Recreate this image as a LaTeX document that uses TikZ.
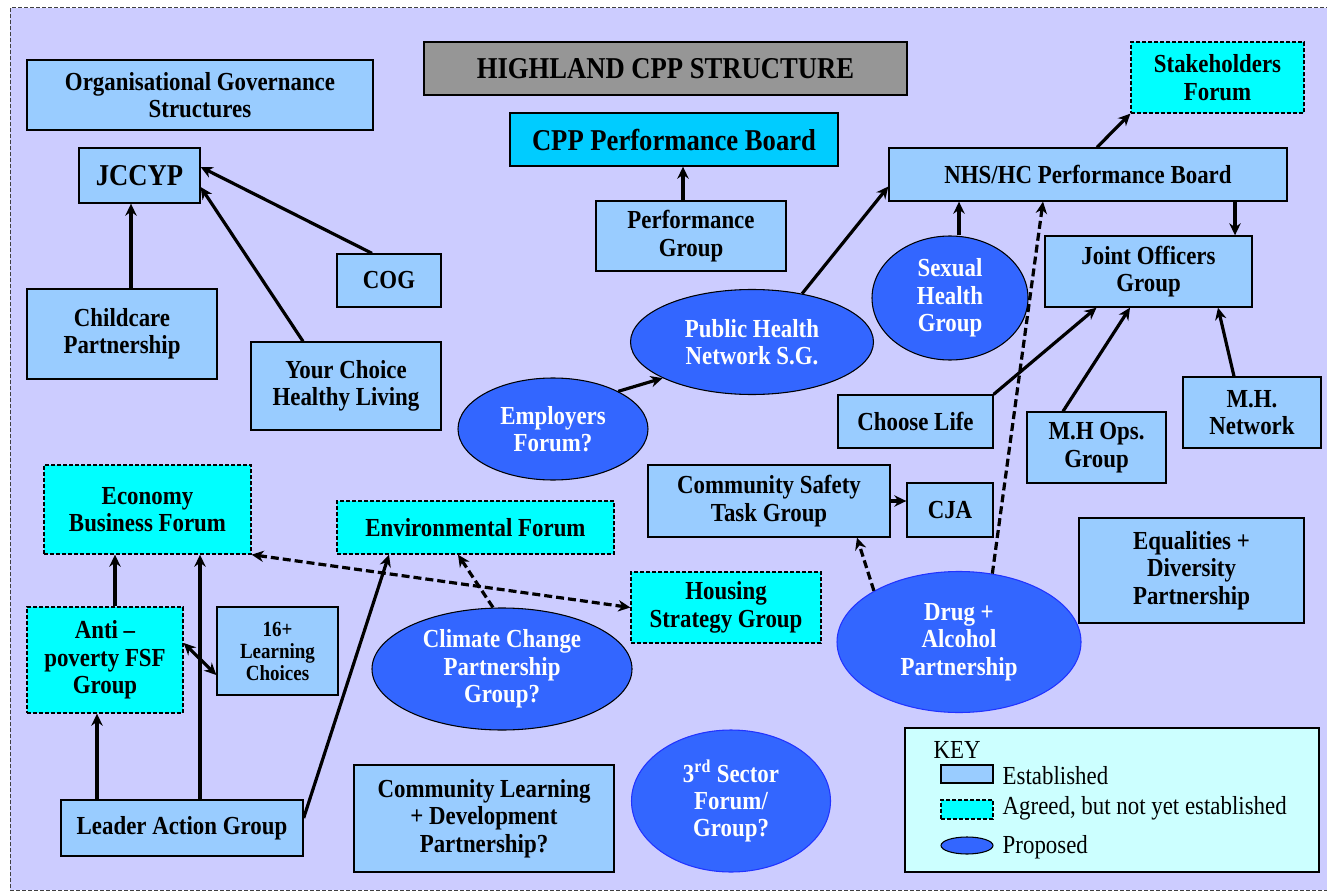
\documentclass[tikz,border=0pt]{standalone}
\usepackage{fontspec}
\setmainfont{Liberation Serif}[FakeStretch=0.88]
\usetikzlibrary{shapes.geometric,arrows.meta,calc}

\definecolor{bgpurple}{HTML}{CCCCFF}
\definecolor{estblue}{HTML}{99CCFF}
\definecolor{agreedcyan}{HTML}{00FFFF}
\definecolor{boardcyan}{HTML}{00CCFF}
\definecolor{propblue}{HTML}{3366FF}
\definecolor{propedge}{HTML}{2233FF}
\definecolor{titlegray}{HTML}{969696}
\definecolor{keycyan}{HTML}{CCFFFF}

\newcommand{\cppfont}{\bfseries\fontsize{19.5}{20.5}\selectfont}
\newcommand{\cppbig}{\bfseries\fontsize{22.7}{24}\selectfont}
\newcommand{\cppsmall}{\bfseries\fontsize{16.2}{16.5}\selectfont}
\newcommand{\keyfont}{\fontsize{19.5}{20.5}\selectfont}

\tikzset{
  est/.style={draw, fill=estblue, line width=1pt, align=center, inner sep=0pt, font=\cppfont},
  agreed/.style={est, fill=agreedcyan, dash pattern=on 3pt off 1.5pt},
  prop/.style={ellipse, draw, fill=propblue, line width=0.8pt, inner sep=0pt, align=center, text=white, font=\cppfont},
  conn/.style={line width=2.4pt, ->, >={Stealth[length=9pt,width=8.5pt]}},
  plan/.style={conn, dash pattern=on 6pt off 3pt},
}

\begin{document}
\begin{tikzpicture}[x=0.75pt,y=-0.75pt]
  \useasboundingbox (0,0) rectangle (1327,891);
  \fill[white] (0,0) rectangle (1327,891);
  \draw[fill=bgpurple, draw=black!75, line width=0.75pt, dash pattern=on 3pt off 1.5pt] (10,8) rectangle (1330,890);

  % organisational governance side
  \node[est, minimum width=259.5pt, minimum height=52.5pt] (org) at (200,95) {Organisational Governance\\Structures};
  \node[est, minimum width=90.75pt, minimum height=41.25pt, font=\cppbig] (jccyp) at (139.5,175.5) {JCCYP};
  \node[est, minimum width=78pt, minimum height=39.75pt] (cog) at (389,280.5) {COG};
  \node[est, minimum width=142.5pt, minimum height=67.5pt] (childcare) at (122,334) {Childcare\\Partnership};
  \node[est, minimum width=142.5pt, minimum height=66pt] (yourchoice) at (346,386) {Your Choice\\Healthy Living};

  % performance boards
  \node[est, fill=titlegray, minimum width=362.25pt, minimum height=39.75pt, font=\cppbig] (title) at (665.5,68.5) {HIGHLAND CPP STRUCTURE};
  \node[est, fill=boardcyan, minimum width=246pt, minimum height=39.75pt, font=\cppbig] (cppboard) at (674,139.5) {CPP Performance Board};
  \node[est, minimum width=142.5pt, minimum height=52.5pt] (perfgroup) at (691,236) {Performance\\Group};
  \node[est, minimum width=298.5pt, minimum height=39.75pt] (nhs) at (1088,174.5) {NHS/HC Performance Board};
  \node[agreed, minimum width=129.75pt, minimum height=53.25pt] (stake) at (1217.5,77.5) {Stakeholders\\Forum};
  \node[est, minimum width=155.25pt, minimum height=53.25pt] (joint) at (1148.5,271.5) {Joint Officers\\Group};

  % health
  \node[prop, minimum width=117pt, minimum height=93pt] (sexual) at (950,298) {Sexual\\Health\\Group};
  \node[prop, minimum width=182.25pt, minimum height=78.75pt] (pubhealth) at (752,342) {Public Health\\Network S.G.};
  \node[prop, minimum width=142.5pt, minimum height=76.5pt] (employers) at (553,429) {Employers\\Forum?};
  \node[est, minimum width=116.25pt, minimum height=39.75pt] (chooselife) at (915.5,421.5) {Choose Life};
  \node[est, minimum width=104.25pt, minimum height=53.25pt] (mhops) at (1096.5,447.5) {M.H Ops.\\Group};
  \node[est, minimum width=103.5pt, minimum height=53.25pt] (mhnet) at (1252,412.5) {M.H.\\Network};

  % safety
  \node[est, minimum width=181.5pt, minimum height=54pt] (commsafety) at (769,501) {Community Safety\\Task Group};
  \node[est, minimum width=64.5pt, minimum height=40.5pt] (cja) at (950,510) {CJA};
  \node[est, minimum width=168.75pt, minimum height=78.75pt] (equalities) at (1191.5,570.5) {Equalities +\\Diversity\\Partnership};
  \node[prop, draw=propedge, minimum width=183pt, minimum height=105.75pt] (drug) at (959,642) {Drug +\\Alcohol\\Partnership};

  % economy, environment, housing
  \node[agreed, minimum width=155.25pt, minimum height=66.75pt] (economy) at (147.5,509.5) {Economy\\Business Forum};
  \node[agreed, minimum width=207.75pt, minimum height=39.75pt] (env) at (475.5,527.5) {Environmental Forum};
  \node[agreed, minimum width=142.5pt, minimum height=53.25pt] (housing) at (726,607.5) {Housing\\Strategy Group};
  \node[agreed, minimum width=117pt, minimum height=79.5pt] (anti) at (105,660) {Anti –\\poverty FSF\\Group};
  \node[est, minimum width=90.75pt, minimum height=66pt, font=\cppsmall] (learning) at (277.5,651) {16+\\Learning\\Choices};
  \node[prop, minimum width=195pt, minimum height=91.5pt] (climate) at (502,669) {Climate Change\\Partnership\\Group?};
  \node[est, minimum width=181.5pt, minimum height=42pt] (leader) at (182,828) {Leader Action Group};
  \node[est, minimum width=195pt, minimum height=80.25pt] (commlearn) at (484,818.5) {Community Learning\\+ Development\\Partnership?};
  \node[prop, draw=propedge, minimum width=149.25pt, minimum height=106.5pt] (third) at (731,801) {3\textsuperscript{rd} Sector\\Forum/\\Group?};

  % key
  \node[draw, fill=keycyan, line width=1pt, minimum width=310.5pt, minimum height=108pt] (key) at (1112,800) {};
  \node[anchor=west, font=\keyfont] (keytitle) at (929,750) {KEY};
  \node[est, minimum width=39pt, minimum height=13.5pt] (keyest) at (967,774) {};
  \node[anchor=west, font=\keyfont] (keyesttxt) at (998,776) {Established};
  \node[agreed, minimum width=39pt, minimum height=14.25pt] (keyagr) at (967,809.5) {};
  \node[anchor=west, font=\keyfont] (keyagrtxt) at (998,808) {Agreed, but not yet established};
  \node[prop, minimum width=39pt, minimum height=12.75pt] (keyprop) at (967,845.5) {};
  \node[anchor=west, font=\keyfont] (keyproptxt) at (998,847) {Proposed};

  % connectors
  \path[conn] ($(childcare.north)+(9,0)$) edge ($(jccyp.south)+(-8.5,0)$);
  \path[conn] ($(yourchoice.north)+(-43,0)$) edge ($(jccyp.east)+(0,11.5)$);
  \path[conn] ($(cog.north)+(-17,0)$) edge ($(jccyp.east)+(0,-8.5)$);
  \path[conn] ($(perfgroup.north)+(-8,0)$) edge ($(cppboard.south)+(9,0)$);
  \path[conn] (pubhealth.44) edge ($(nhs.west)+(0,12)$);
  \path[conn] (employers.30) edge (pubhealth.202);
  \path[conn] ($(sexual.north)+(9,0)$) edge ($(nhs.south)+(-129,0)$);
  \path[conn] ($(nhs.north)+(9,0)$) edge (stake.south west);
  \path[conn] ($(nhs.south)+(147,0)$) edge ($(joint.north)+(86.5,0)$);
  \path[plan] (drug.64) edge ($(nhs.south)+(-45,0)$);
  \path[conn] (chooselife.north east) edge ($(joint.south)+(-52,0)$);
  \path[conn] ($(mhops.north)+(-33.5,0)$) edge ($(joint.south)+(-18.5,0)$);
  \path[conn] ($(mhnet.north)+(-18,0)$) edge ($(joint.south)+(69.5,0)$);
  \path[conn] (commsafety.east) edge (commsafety.east -| cja.west);
  \path[plan] (drug.149) edge ($(commsafety.south)+(88,0)$);
  \path[conn] ($(anti.north)+(10,0)$) edge ($(economy.south)+(-32.5,0)$);
  \path[conn] ($(leader.north)+(-85,0)$) edge ($(anti.south)+(-8,0)$);
  \path[conn] ($(leader.north)+(18,0)$) edge ($(economy.south)+(52.5,0)$);
  \path[conn] ($(leader.east)+(0,-10)$) edge ($(env.south)+(-86.5,0)$);
  \path[conn,<->] ($(anti.east)+(0,-17)$) edge ($(learning.west)+(0,24)$);
  \path[plan,<->] (economy.south east) edge (housing.west);
  \path[plan] ($(climate.north)+(-9,0)$) edge ($(env.south)+(-17.5,0)$);
\end{tikzpicture}
\end{document}
